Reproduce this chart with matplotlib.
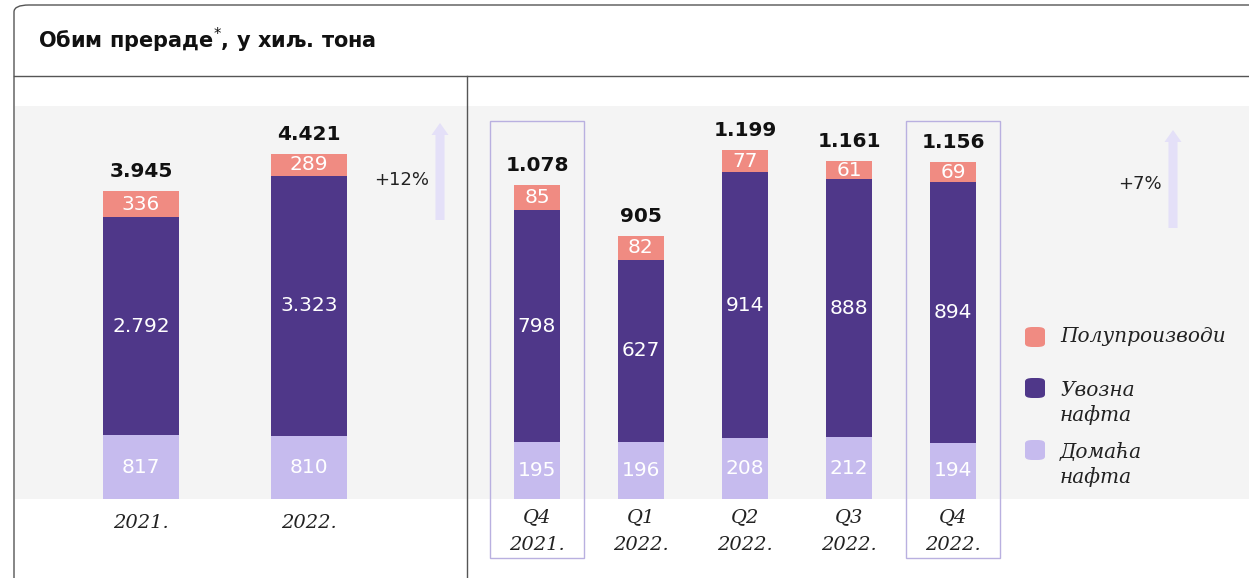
import matplotlib
matplotlib.use("Agg")
import matplotlib.pyplot as plt
from matplotlib.patches import FancyBboxPatch, Rectangle, FancyArrow
from matplotlib.lines import Line2D
import numpy as np

# annual data, thousand tonnes
years = ["2021.", "2022."]
y_domestic = [817, 810]
y_import = [2792, 3323]
y_semi = [336, 289]
y_total = [3945, 4421]

# quarterly data
q_names = ["Q4", "Q1", "Q2", "Q3", "Q4"]
q_years = ["2021.", "2022.", "2022.", "2022.", "2022."]
q_domestic = [195, 196, 208, 212, 194]
q_import = [798, 627, 914, 888, 894]
q_semi = [85, 82, 77, 61, 69]
q_total = [1078, 905, 1199, 1161, 1156]

C_SEMI = "#f08b82"
C_IMP = "#4f3789"
C_DOM = "#c6bbee"
C_BG = "#f4f4f4"
C_ARROW = "#e4e0f8"
C_BOX = "#b9b0e0"

W, H = 1249, 578
fig = plt.figure(figsize=(W / 100, H / 100), dpi=100)
fig.patch.set_facecolor("white")


def fx(x):
    return x / W


def fy(y):
    return 1 - y / H


def fmt(v):
    return f"{v:,}".replace(",", ".")


num_font = dict(family="DejaVu Sans")
cat_font = dict(family="DejaVu Serif", style="italic")


def stack(ax, xs, dom, imp, semi, tot, width, fs_in, fs_tot):
    xs = np.asarray(xs, dtype=float)
    dom = np.asarray(dom)
    imp = np.asarray(imp)
    semi = np.asarray(semi)
    ax.bar(xs, dom, width, color=C_DOM, zorder=3)
    ax.bar(xs, imp, width, bottom=dom, color=C_IMP, zorder=3)
    ax.bar(xs, semi, width, bottom=dom + imp, color=C_SEMI, zorder=3)
    for x, d, i, s, t in zip(xs, dom, imp, semi, tot):
        for yc, v in ((d / 2, d), (d + i / 2, i), (d + i + s / 2, s)):
            ax.text(x, yc, fmt(v), ha="center", va="center", color="white",
                    fontsize=fs_in, zorder=4, **num_font)
        ax.annotate(fmt(t), (x, d + i + s), xytext=(0, 14), textcoords="offset points",
                    ha="center", va="center", fontsize=fs_tot, fontweight="bold",
                    color="#111111", zorder=4, **num_font)


# left panel (annual)
axL = fig.add_axes([fx(15), fy(499), 452 / W, 393 / H])
axL.set_facecolor(C_BG)
xl = np.arange(len(years))
stack(axL, xl, y_domestic, y_import, y_semi, y_total, 0.452, 14.5, 14.5)
axL.set_xlim(-0.75, -0.75 + 452 / 168)
axL.set_ylim(0, 393 / 0.0781)
for x, lab in zip(xl, years):
    axL.annotate(lab, (x, 0), xytext=(0, -17), textcoords="offset points",
                 ha="center", va="center", fontsize=14, color="#222222", **cat_font)

# right panel (quarterly)
axR = fig.add_axes([fx(467), fy(499), 782 / W, 393 / H])
axR.set_facecolor(C_BG)
xq = np.arange(len(q_names))
stack(axR, xq, q_domestic, q_import, q_semi, q_total, 0.447, 14.5, 14.5)
axR.set_xlim(-0.673, -0.673 + 782 / 104)
axR.set_ylim(0, 393 / 0.291)
for x, qn, yr in zip(xq, q_names, q_years):
    axR.annotate(qn, (x, 0), xytext=(0, -13), textcoords="offset points",
                 ha="center", va="center", fontsize=14, color="#222222", **cat_font)
    axR.annotate(yr, (x, 0), xytext=(0, -33), textcoords="offset points",
                 ha="center", va="center", fontsize=14, color="#222222", **cat_font)

# boxes around Q4 bars
for i in (0, 4):
    r = Rectangle((xq[i] - 0.45, -59 / 0.291), 0.9, 437 / 0.291, fill=False,
                  edgecolor=C_BOX, lw=1.0, clip_on=False, zorder=5)
    axR.add_patch(r)

for ax in (axL, axR):
    for s in ax.spines.values():
        s.set_visible(False)
    ax.set_xticks([])
    ax.set_yticks([])

# growth arrows
for x, y0, y1 in ((440, 220, 123), (1173, 228, 130)):
    fig.add_artist(FancyArrow(fx(x), fy(y0), 0, fy(y1) - fy(y0), width=9 / W,
                              head_width=17 / W, head_length=12 / H,
                              length_includes_head=True, color=C_ARROW, lw=0,
                              transform=fig.transFigure))
fig.text(fx(402), fy(180), "+12%", ha="center", va="center", fontsize=13,
         color="#222222", **num_font)
fig.text(fx(1140), fy(184), "+7%", ha="center", va="center", fontsize=13,
         color="#222222", **num_font)

# legend
legend_items = [(C_SEMI, "Полупроизводи", 337, 337),
                (C_IMP, "Увозна\nнафта", 388, 403),
                (C_DOM, "Домаћа\nнафта", 450, 465)]
for col, lab, ym, yt in legend_items:
    fig.add_artist(FancyBboxPatch((fx(1025), fy(ym + 10)), 20 / W, 20 / H,
                                  boxstyle="round,pad=0,rounding_size=0.006",
                                  transform=fig.transFigure, color=col, lw=0))
    fig.text(fx(1060), fy(yt), lab, ha="left", va="center", fontsize=14.5,
             color="#222222", linespacing=1.3, **cat_font)

# frame, header line and divider
fig.add_artist(FancyBboxPatch((fx(14), fy(H + 20)), (W + 20) / W, (H + 15) / H,
                              boxstyle="round,pad=0,rounding_size=0.012",
                              transform=fig.transFigure, fill=False,
                              edgecolor="#555555", lw=1.0, zorder=10))
fig.add_artist(Line2D([fx(14), 1], [fy(76), fy(76)], color="#555555", lw=1.0,
                      transform=fig.transFigure, zorder=10))
fig.add_artist(Line2D([fx(467), fx(467)], [fy(76), 0], color="#555555", lw=1.0,
                      transform=fig.transFigure, zorder=10))

fig.text(fx(38), fy(40), "Обим прераде$^{*}$, у хиљ. тона", ha="left", va="center",
         fontsize=15, fontweight="bold", color="#111111", **num_font)

fig.savefig("out.png", dpi=100, facecolor="white")
